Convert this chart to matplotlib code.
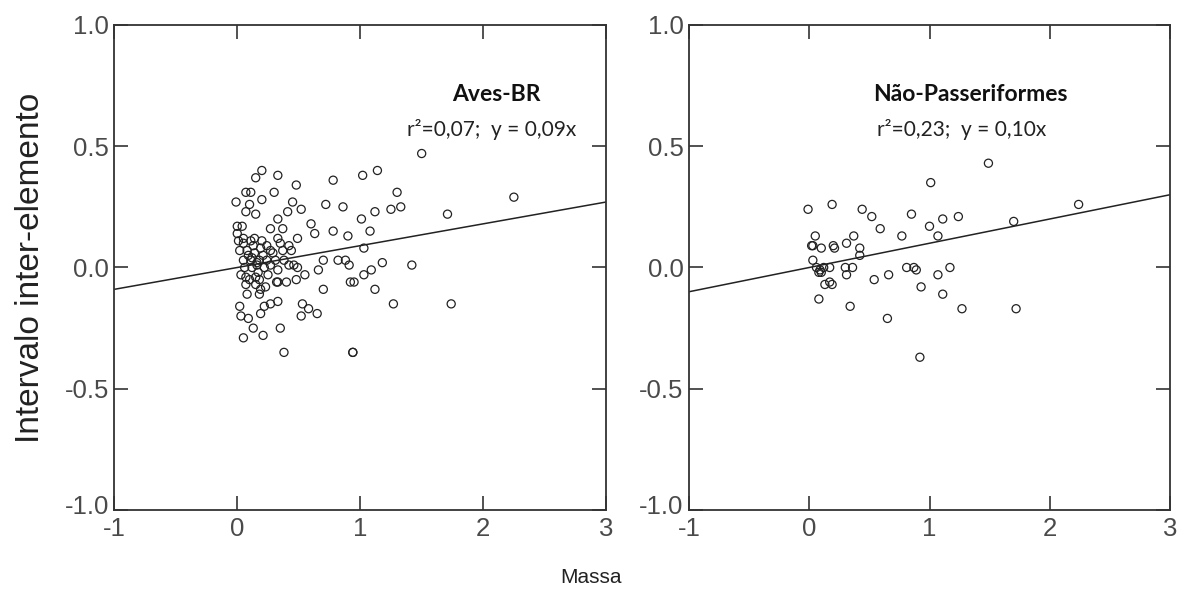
import matplotlib
matplotlib.use("Agg")
import matplotlib.pyplot as plt
from matplotlib.transforms import ScaledTranslation

plt.rcParams["axes.unicode_minus"] = False

# Aves-BR: massa vs intervalo inter-elemento
aves_massa = [0.20, 0.33, 0.15, 0.78, 1.02, 1.14, 0.48, 0.07, 0.11, 0.30, 1.30, 0.20,
              -0.01, 0.10, 0.45, 0.52, 0.72, 0.86, 1.25, 1.33, 1.12, 0.07, 0.15, 0.41,
              0.33, 1.01, 0.60, 0.00, 0.04, 0.27, 0.37, 1.08, 0.63, 0.78, 0.90, 0.00,
              0.05, 0.49, 1.03, 0.70, 0.82, 0.88, 0.91, 1.18, 0.46, 0.66, 0.55, 1.03,
              1.09, 0.40, 0.48, 0.32, 0.92, 0.95, 0.70, 1.12, 1.27, 0.02, 0.53, 0.22,
              0.27, 0.33, 0.19, 0.58, 0.65, 0.52, 0.03, 0.09, 0.13, 0.35, 0.05, 0.21,
              0.38, 0.94, 0.94,
              0.01, 0.05, 0.11, 0.20, 0.24, 0.33, 0.35, 0.42, 0.02, 0.08, 0.14, 0.19,
              0.27, 0.37, 0.44, 0.05, 0.11, 0.18, 0.24, 0.31, 0.38, 0.42, 0.03, 0.07,
              0.15, 0.18, 0.33, 0.49, 0.07, 0.15, 0.19, 0.33, 0.08, 0.18,
              0.12, 0.16, 0.22, 0.27, 0.09, 0.13, 0.17, 0.21, 0.14, 0.10, 0.25, 0.29,
              0.06, 0.23, 0.16, 0.12,
              1.50, 1.71, 2.25, 1.42, 1.74]
aves_intervalo = [0.40, 0.38, 0.37, 0.36, 0.38, 0.40, 0.34, 0.31, 0.31, 0.31, 0.31, 0.28,
                  0.27, 0.26, 0.27, 0.24, 0.26, 0.25, 0.24, 0.25, 0.23, 0.23, 0.22, 0.23,
                  0.20, 0.20, 0.18, 0.17, 0.17, 0.16, 0.16, 0.15, 0.14, 0.15, 0.13, 0.14,
                  0.12, 0.12, 0.08, 0.03, 0.03, 0.03, 0.01, 0.02, 0.01, -0.01, -0.03, -0.03,
                  -0.01, -0.06, -0.05, -0.06, -0.06, -0.06, -0.09, -0.09, -0.15, -0.16, -0.15, -0.16,
                  -0.15, -0.14, -0.19, -0.17, -0.19, -0.20, -0.20, -0.21, -0.25, -0.25, -0.29, -0.28,
                  -0.35, -0.35, -0.35,
                  0.11, 0.10, 0.11, 0.11, 0.09, 0.12, 0.10, 0.09, 0.07, 0.07, 0.06, 0.08,
                  0.07, 0.07, 0.07, 0.03, 0.03, 0.03, 0.03, 0.03, 0.03, 0.01, -0.03, -0.04,
                  -0.04, -0.05, -0.01, 0.00, -0.07, -0.07, -0.09, -0.06, -0.11, -0.11,
                  0.00, 0.01, 0.00, 0.01, 0.05, 0.09, -0.02, 0.05, 0.12, -0.05, -0.03, 0.06,
                  0.00, -0.08, 0.02, 0.04,
                  0.47, 0.22, 0.29, 0.01, -0.15]

# Não-Passeriformes
nao_massa = [1.01, -0.01, 0.19, 0.44, 0.52, 0.85, 1.11, 0.59, 1.00, 0.77, 1.07, 0.37,
             0.05, 0.31, 0.20, 0.21, 0.02, 0.03, 0.10, 0.42, 0.42, 0.03, 0.06, 0.09,
             0.12, 0.08, 0.10, 0.17, 0.30, 0.36, 0.31, 0.81, 0.87, 0.89, 0.54, 0.66,
             0.13, 0.17, 0.19, 0.93, 1.07, 1.11, 0.08, 0.34, 0.65, 0.92, 1.17, 1.49,
             1.24, 1.70, 2.24, 1.27, 1.72]
nao_intervalo = [0.35, 0.24, 0.26, 0.24, 0.21, 0.22, 0.20, 0.16, 0.17, 0.13, 0.13, 0.13,
                 0.13, 0.10, 0.09, 0.08, 0.09, 0.09, 0.08, 0.08, 0.05, 0.03, 0.00, -0.01,
                 0.00, -0.02, -0.02, 0.00, 0.00, 0.00, -0.03, 0.00, 0.00, -0.01, -0.05, -0.03,
                 -0.07, -0.06, -0.07, -0.08, -0.03, -0.11, -0.13, -0.16, -0.21, -0.37, 0.00, 0.43,
                 0.21, 0.19, 0.26, -0.17, -0.17]

# regressões (sem intercepto) e r²
paineis = [
    ("Aves-BR", aves_massa, aves_intervalo, 0.09, "0,07", "0,09", 0.776, 0.768),
    ("Não-Passeriformes", nao_massa, nao_intervalo, 0.10, "0,23", "0,10", 0.584, 0.566),
]
x_linha = [-1, 3]

fig = plt.figure(figsize=(11.81, 5.92), dpi=100)
posicoes = [[0.0968, 0.1385, 0.4164, 0.8193], [0.5834, 0.1385, 0.4073, 0.8193]]

for pos, (titulo, xs, ys, slope, r2, coef, xt, xr) in zip(posicoes, paineis):
    ax = fig.add_axes(pos)
    ax.scatter(xs, ys, s=34, facecolors="none", edgecolors="#222222", linewidths=0.9, zorder=3)
    ax.plot(x_linha, [slope * v for v in x_linha], color="#222222", lw=1.1, zorder=2)

    ax.set_xlim(-1, 3)
    ax.set_ylim(-1, 1)
    ax.set_xticks([-1, 0, 1, 2, 3])
    ax.set_yticks([-1.0, -0.5, 0.0, 0.5, 1.0])
    ax.set_yticklabels(["-1.0", "-0.5", "0.0", "0.5", "1.0"])
    ax.tick_params(direction="in", length=10, width=1.2, color="#333333",
                   top=True, right=True, labelcolor="#4a4a4a", labelsize=18.5)
    ax.tick_params(axis="x", pad=5)
    ax.tick_params(axis="y", pad=4)
    for lab in ax.get_xticklabels() + ax.get_yticklabels():
        lab.set_fontfamily("Liberation Sans")
    # "-1.0" sobe um pouco para não encostar no "-1" do eixo x
    lab_min = ax.get_yticklabels()[0]
    lab_min.set_transform(lab_min.get_transform() + ScaledTranslation(0, 4 / 72, fig.dpi_scale_trans))
    for sp in ax.spines.values():
        sp.set_linewidth(1.3)
        sp.set_color("#333333")

    ax.text(xt, 0.856, titulo, transform=ax.transAxes, ha="center", va="center",
            fontsize=16.5, fontweight="bold", family="Lato", color="#111111")
    ax.text(xr, 0.784, "r²=%s;  y = %sx" % (r2, coef), transform=ax.transAxes,
            ha="center", va="center", fontsize=15, family="Lato", color="#222222")
    if titulo == "Aves-BR":
        ax.set_ylabel("Intervalo inter-elemento", fontsize=24, family="Liberation Sans",
                      color="#222222", labelpad=13)

fig.text(0.50, 0.025, "Massa", ha="center", va="center", fontsize=15,
         family="Liberation Sans", color="#222222")

fig.savefig("out.png", dpi=100)
